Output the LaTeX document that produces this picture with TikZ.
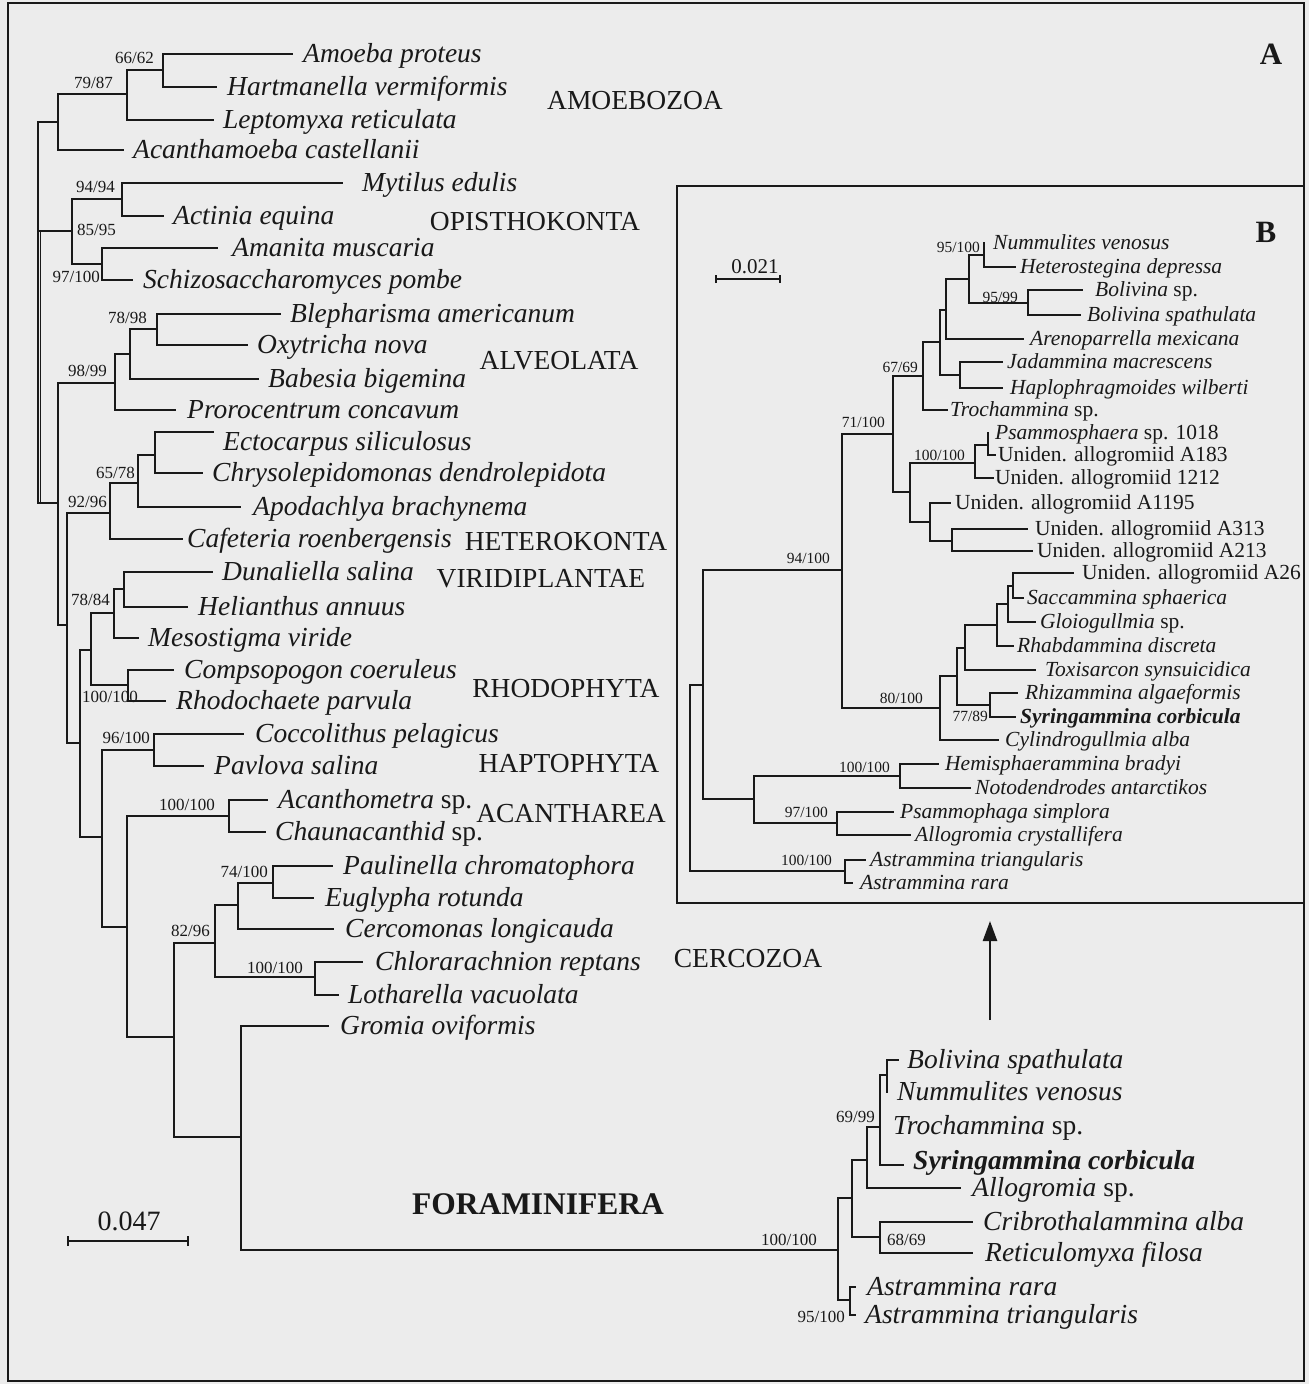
\documentclass[tikz,border=0pt]{standalone}
\usepackage{fontspec}
\setmainfont{Liberation Serif}
\usetikzlibrary{arrows.meta}
\definecolor{bg}{RGB}{236,236,236}
\definecolor{ink}{RGB}{25,25,25}
\newcommand\tipx[6][nmA]{\coordinate (#2) at (#3,#4); \node[#1] (#2t) at (#5,#4) {#6};}
\begin{document}
\begin{tikzpicture}[x=1pt,y=-1pt,
  br/.style={draw=ink,line width=1.7pt,line cap=rect},
  brB/.style={br,line width=1.4pt},
  nmA/.style={anchor=west,inner sep=0pt,font=\fontsize{27.5}{30}\selectfont\itshape,text height=17pt,text depth=0pt,text=ink},
  nmAu/.style={nmA,font=\fontsize{27.5}{30}\selectfont},
  nmB/.style={anchor=west,inner sep=0pt,font=\fontsize{21.5}{24}\selectfont\itshape,text height=13pt,text depth=0pt,text=ink},
  nmBu/.style={nmB,font=\fontsize{21.5}{24}\selectfont},
  supA/.style={anchor=east,inner sep=0pt,font=\fontsize{17}{18}\selectfont,text height=11pt,text depth=0pt,text=ink},
  supB/.style={supA,font=\fontsize{15.5}{17}\selectfont,text height=10pt},
  grp/.style={inner sep=0pt,font=\fontsize{27.5}{30}\selectfont,text height=18pt,text depth=0pt,text=ink},
  frame/.style={draw=ink,line width=1.5pt}]
\useasboundingbox (0,0) rectangle (1309,1384);
\fill[bg] (0,0) rectangle (1309,1384);
\draw[frame] (8,3) rectangle (1304,1381);
\draw[frame] (677,186) rectangle (1304,903);

% ---------------- Tree A: internal nodes ----------------
\coordinate (rootA) at (38,231);
\coordinate (nAmo) at (58,122);
\coordinate (n7987) at (127,94);
\coordinate (n6662) at (163,70);
\coordinate (nOpi) at (72,231);
\coordinate (n9494) at (122,199);
\coordinate (n97100) at (102,264);
\coordinate (n58) at (58,503);
\coordinate (n115) at (115,383);
\coordinate (n130) at (130,354);
\coordinate (n157) at (157,329);
\coordinate (n67) at (67,625);
\coordinate (n110) at (110,513);
\coordinate (n138) at (138,483);
\coordinate (n155) at (155,455);
\coordinate (n80) at (80,743);
\coordinate (n91) at (91,650);
\coordinate (n114) at (114,613);
\coordinate (n124) at (124,589);
\coordinate (n128) at (128,685);
\coordinate (n102) at (102,837);
\coordinate (n154) at (154,750);
\coordinate (n127) at (127,927);
\coordinate (n229) at (229,816);
\coordinate (n174) at (174,1037);
\coordinate (n215) at (215,943);
\coordinate (n238) at (238,905);
\coordinate (n273) at (273,883);
\coordinate (n315) at (315,977);
\coordinate (n241) at (241,1137);
\coordinate (nF) at (838,1250);
\coordinate (n852) at (852,1198);
\coordinate (n867) at (867,1160);
\coordinate (n880) at (880,1127);
\coordinate (n887) at (887,1075);
\coordinate (n880b) at (880,1237);
\coordinate (n850) at (850,1300);

% ---------------- Tree A: tips ----------------
\tipx{a1}{292}{54}{303}{Amoeba proteus}
\tipx{a2}{216}{87}{227}{Hartmanella vermiformis}
\tipx{a3}{213}{120}{223}{Leptomyxa reticulata}
\tipx{a4}{123}{150}{133}{Acanthamoeba castellanii}
\tipx{a5}{342}{183}{362}{Mytilus edulis}
\tipx{a6}{163}{216}{173}{Actinia equina}
\tipx{a7}{217}{248}{232}{Amanita muscaria}
\tipx{a8}{132}{280}{143}{Schizosaccharomyces pombe}
\tipx{a9}{280}{314}{290}{Blepharisma americanum}
\tipx{a10}{247}{345}{257}{Oxytricha nova}
\tipx{a11}{258}{379}{268}{Babesia bigemina}
\tipx{a12}{175}{410}{187}{Prorocentrum concavum}
\coordinate (a13) at (213,432); \node[nmA] (a13t) at (223,442) {Ectocarpus siliculosus};
\tipx{a14}{202}{473}{212}{Chrysolepidomonas dendrolepidota}
\tipx{a15}{240}{507}{253}{Apodachlya brachynema}
\tipx{a16}{182}{539}{187}{Cafeteria roenbergensis}
\tipx{a17}{212}{572}{222}{Dunaliella salina}
\tipx{a18}{187}{607}{198}{Helianthus annuus}
\tipx{a19}{138}{638}{148}{Mesostigma viride}
\tipx{a20}{173}{670}{184}{Compsopogon coeruleus}
\tipx{a21}{165}{701}{176}{Rhodochaete parvula}
\tipx{a22}{243}{734}{255}{Coccolithus pelagicus}
\tipx{a23}{203}{766}{214}{Pavlova salina}
\tipx{a24}{267}{800}{278}{Acanthometra \textup{sp.}}
\tipx{a25}{265}{832}{275}{Chaunacanthid \textup{sp.}}
\tipx{a26}{332}{866}{343}{Paulinella chromatophora}
\tipx{a27}{313}{898}{325}{Euglypha rotunda}
\tipx{a28}{333}{929}{345}{Cercomonas longicauda}
\tipx{a29}{362}{962}{375}{Chlorarachnion reptans}
\tipx{a30}{338}{995}{348}{Lotharella vacuolata}
\tipx{a31}{328}{1026}{340}{Gromia oviformis}
% Foraminifera subtree tips
\tipx{f1}{898}{1060}{907}{Bolivina spathulata}
\tipx{f2}{887}{1092}{897}{Nummulites venosus}
\node[nmA] (f3t) at (893,1126) {Trochammina \textup{sp.}};
\coordinate (f4) at (903,1165); \node[nmA] (f4t) at (913,1161) {\textbf{Syringammina corbicula}};
\tipx{f5}{960}{1188}{972}{Allogromia \textup{sp.}}
\tipx{f6}{972}{1222}{983}{Cribrothalammina alba}
\tipx{f7}{972}{1253}{985}{Reticulomyxa filosa}
\tipx{f8}{855}{1287}{867}{Astrammina rara}
\tipx{f9}{855}{1315}{865}{Astrammina triangularis}

\foreach \p/\c in {rootA/nAmo,rootA/nOpi,rootA/n58,
  nAmo/n7987,nAmo/a4,n7987/n6662,n7987/a3,n6662/a1,n6662/a2,
  nOpi/n9494,nOpi/n97100,n9494/a5,n9494/a6,n97100/a7,n97100/a8,
  n58/n115,n58/n67,n115/n130,n115/a12,n130/n157,n130/a11,n157/a9,n157/a10,
  n67/n110,n67/n80,n110/n138,n110/a16,n138/n155,n138/a15,n155/a13,n155/a14,
  n80/n91,n80/n102,n91/n114,n91/n128,n114/n124,n114/a19,n124/a17,n124/a18,n128/a20,n128/a21,
  n102/n154,n102/n127,n154/a22,n154/a23,n127/n229,n127/n174,n229/a24,n229/a25,
  n174/n215,n174/n241,n215/n238,n215/n315,n238/n273,n238/a28,n273/a26,n273/a27,n315/a29,n315/a30,
  n241/a31,n241/nF,
  nF/n852,nF/n850,n852/n867,n852/n880b,n867/n880,n867/f5,n880/n887,n880/f4,n887/f1,n887/f2,
  n880b/f6,n880b/f7,n850/f8,n850/f9}
  \draw[br] (\p) |- (\c);
\coordinate (rootA2a) at (40.5,231); \coordinate (rootA2b) at (40.5,503);
\draw[br] (rootA2a) -- (rootA2b);

% support values A
\node[supA] (s1) at (154,58) {66/62};
\node[supA] (s2) at (113,83) {79/87};
\node[supA] (s3) at (115,187) {94/94};
\node[supA,anchor=west] (s4) at (77,230) {85/95};
\node[supA] (s5) at (100,277) {97/100};
\node[supA] (s6) at (147,318) {78/98};
\node[supA] (s7) at (107,371) {98/99};
\node[supA] (s8) at (135,473) {65/78};
\node[supA] (s9) at (107,502) {92/96};
\node[supA] (s10) at (110,600) {78/84};
\node[supA] (s11) at (138,697) {100/100};
\node[supA] (s12) at (150,738) {96/100};
\node[supA] (s13) at (215,805) {100/100};
\node[supA] (s14) at (268,872) {74/100};
\node[supA] (s15) at (210,931) {82/96};
\node[supA] (s16) at (303,968) {100/100};
\node[supA] (s17) at (817,1240) {100/100};
\node[supA] (s18) at (875,1117) {69/99};
\node[supA,anchor=west] (s19) at (887,1240) {68/69};
\node[supA] (s20) at (845,1317) {95/100};

% group labels
\node[grp] (gAmo) at (635,100) {AMOEBOZOA};
\node[grp] (gOpi) at (535,221) {OPISTHOKONTA};
\node[grp] (gAlv) at (559,360) {ALVEOLATA};
\node[grp] (gHet) at (566,541) {HETEROKONTA};
\node[grp] (gVir) at (541,578) {VIRIDIPLANTAE};
\node[grp] (gRho) at (566,688) {RHODOPHYTA};
\node[grp] (gHap) at (569,763) {HAPTOPHYTA};
\node[grp] (gAca) at (571,813) {ACANTHAREA};
\node[grp] (gCer) at (748,958) {CERCOZOA};
\node[grp,font=\fontsize{31.5}{34}\bfseries,text height=21pt] (gFor) at (538,1204) {FORAMINIFERA};

% scale bar A
\coordinate (sa1) at (68,1241); \coordinate (sa2) at (188,1241);
\draw[br,line cap=butt] ([yshift=-5pt]sa1) -- ([yshift=5pt]sa1);
\draw[br,line cap=butt] ([yshift=-5pt]sa2) -- ([yshift=5pt]sa2);
\draw[br,line cap=butt] (sa1) -- (sa2);
\node[grp,font=\fontsize{28}{30}\selectfont] (sat) at (129,1221) {0.047};

% panel letters
\node[grp,font=\fontsize{31}{33}\bfseries,text height=20pt] (lA) at (1271,54) {A};
\node[grp,font=\fontsize{31}{33}\bfseries,text height=20pt] (lB) at (1266,232) {B};

% arrow
\coordinate (arS) at (990,1020); \coordinate (arE) at (990,921);
\draw[draw=ink,line width=2.4pt,-{Triangle[length=20pt,width=14pt]}] (arS) -- (arE);

% ---------------- Tree B ----------------
\coordinate (rootB) at (690,777);
\coordinate (n703) at (703,685);
\coordinate (n842) at (842,570);
\coordinate (n893) at (893,434);
\coordinate (n923) at (923,376);
\coordinate (n940) at (940,342);
\coordinate (n946) at (946,310);
\coordinate (n969) at (969,279);
\coordinate (n984) at (984,255);
\coordinate (n1028) at (1028,303);
\coordinate (n960) at (960,375);
\coordinate (n910) at (910,492);
\coordinate (n975) at (975,463);
\coordinate (n988) at (988,445);
\coordinate (n930) at (930,522);
\coordinate (n952) at (952,541);
\coordinate (n940b) at (940,708);
\coordinate (n957) at (957,676);
\coordinate (n965) at (965,648);
\coordinate (n997) at (997,625);
\coordinate (n1008) at (1008,604);
\coordinate (n1013) at (1013,586);
\coordinate (n990) at (990,705);
\coordinate (n754) at (754,799);
\coordinate (n900) at (900,776);
\coordinate (n837) at (837,823);
\coordinate (n845) at (845,871);

\tipx[nmB]{b1}{984}{243}{993}{Nummulites venosus}
\tipx[nmB]{b2}{1015}{267}{1020}{Heterostegina depressa}
\tipx[nmB]{b3}{1082}{290}{1095}{Bolivina \textup{sp.}}
\tipx[nmB]{b4}{1080}{315}{1087}{Bolivina spathulata}
\tipx[nmB]{b5}{1023}{339}{1030}{Arenoparrella mexicana}
\tipx[nmB]{b6}{1002}{362}{1007}{Jadammina macrescens}
\tipx[nmB]{b7}{1002}{388}{1010}{Haplophragmoides wilberti}
\tipx[nmB]{b8}{947}{410}{950}{Trochammina \textup{sp.}}
\tipx[nmB]{b9}{988}{433}{995}{Psammosphaera \textup{sp. 1018}}
\tipx[nmBu]{b10}{995}{455}{998}{Uniden. allogromiid A183}
\tipx[nmBu]{b11}{993}{478}{995}{Uniden. allogromiid 1212}
\tipx[nmBu]{b12}{950}{503}{955}{Uniden. allogromiid A1195}
\tipx[nmBu]{b13}{1027}{529}{1035}{Uniden. allogromiid A313}
\tipx[nmBu]{b14}{1032}{551}{1037}{Uniden. allogromiid A213}
\tipx[nmBu]{b15}{1073}{573}{1082}{Uniden. allogromiid A26}
\tipx[nmB]{b16}{1023}{598}{1027}{Saccammina sphaerica}
\tipx[nmB]{b17}{1035}{622}{1040}{Gloiogullmia \textup{sp.}}
\tipx[nmB]{b18}{1013}{646}{1017}{Rhabdammina discreta}
\tipx[nmB]{b19}{1035}{670}{1045}{Toxisarcon synsuicidica}
\tipx[nmB]{b20}{1017}{693}{1025}{Rhizammina algaeformis}
\tipx[nmB]{b21}{1015}{717}{1020}{\textbf{Syringammina corbicula}}
\tipx[nmB]{b22}{998}{740}{1005}{Cylindrogullmia alba}
\tipx[nmB]{b23}{938}{764}{945}{Hemisphaerammina bradyi}
\tipx[nmB]{b24}{970}{788}{975}{Notodendrodes antarctikos}
\tipx[nmB]{b25}{893}{812}{900}{Psammophaga simplora}
\tipx[nmB]{b26}{910}{835}{915}{Allogromia crystallifera}
\tipx[nmB]{b27}{865}{860}{870}{Astrammina triangularis}
\tipx[nmB]{b28}{852}{883}{860}{Astrammina rara}

\foreach \p/\c in {rootB/n703,rootB/n845,n703/n842,n703/n754,n842/n893,n842/n940b,
  n893/n923,n893/n910,n923/n940,n923/b8,n940/n946,n940/n960,n946/n969,n946/b5,
  n969/n984,n969/n1028,n984/b1,n984/b2,n1028/b3,n1028/b4,n960/b6,n960/b7,
  n910/n975,n910/n930,n975/n988,n975/b11,n988/b9,n988/b10,n930/b12,n930/n952,n952/b13,n952/b14,
  n940b/n957,n940b/b22,n957/n965,n957/n990,n965/n997,n965/b19,n997/n1008,n997/b18,
  n1008/n1013,n1008/b17,n1013/b15,n1013/b16,n990/b20,n990/b21,
  n754/n900,n754/n837,n900/b23,n900/b24,n837/b25,n837/b26,n845/b27,n845/b28}
  \draw[brB] (\p) |- (\c);

% support values B
\node[supB] (t1) at (980,247) {95/100};
\node[supB] (t2) at (1018,297) {95/99};
\node[supB] (t3) at (918,367) {67/69};
\node[supB] (t4) at (885,422) {71/100};
\node[supB] (t5) at (965,455) {100/100};
\node[supB] (t6) at (830,558) {94/100};
\node[supB] (t7) at (923,698) {80/100};
\node[supB] (t8) at (988,716) {77/89};
\node[supB] (t9) at (890,767) {100/100};
\node[supB] (t10) at (828,812) {97/100};
\node[supB] (t11) at (832,860) {100/100};

% scale bar B
\coordinate (sb1) at (716,279); \coordinate (sb2) at (780,279);
\draw[brB,line cap=butt] ([yshift=-4pt]sb1) -- ([yshift=4pt]sb1);
\draw[brB,line cap=butt] ([yshift=-4pt]sb2) -- ([yshift=4pt]sb2);
\draw[brB,line cap=butt] (sb1) -- (sb2);
\node[grp,font=\fontsize{21}{23}\selectfont,text height=14pt] (sbt) at (755,266) {0.021};
\end{tikzpicture}
\end{document}
